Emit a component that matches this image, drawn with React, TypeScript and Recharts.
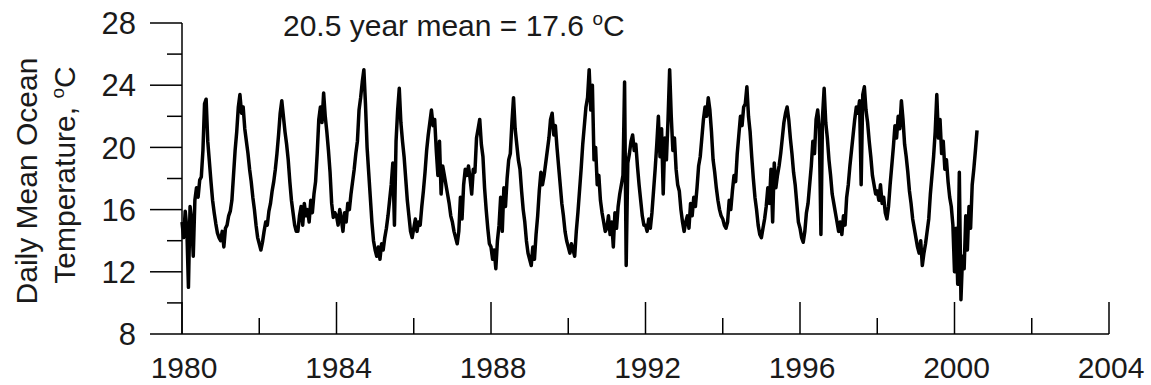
import React from "react";
import { LineChart, Line, XAxis, YAxis, Customized } from "recharts";

// Semi-monthly readings (24 per year), °C
const t1980 = [15.2, 14.2, 15.9, 14.8, 11.0, 16.2, 15.3, 13.0, 16.6, 17.4, 16.8, 17.9, 18.1, 19.8, 22.8, 23.1, 20.4, 19.1, 17.8, 16.6, 15.8, 15.1, 14.5, 14.2];
const t1981 = [14.0, 14.6, 13.6, 14.8, 15.0, 15.6, 15.9, 16.6, 18.2, 19.8, 21.0, 22.6, 23.4, 22.2, 22.6, 21.2, 20.4, 19.6, 18.6, 17.8, 16.8, 16.0, 15.0, 14.2];
const t1982 = [13.8, 13.4, 13.9, 14.6, 15.2, 15.0, 15.9, 16.4, 17.2, 17.8, 18.6, 19.6, 20.8, 22.2, 23.0, 22.0, 21.0, 20.2, 19.2, 17.8, 16.6, 15.8, 15.0, 14.6];
const t1983 = [14.6, 15.6, 16.2, 15.0, 16.4, 15.6, 16.0, 15.2, 16.6, 15.8, 17.0, 17.8, 19.6, 21.8, 22.6, 21.6, 23.5, 22.0, 21.0, 19.8, 18.4, 16.4, 15.5, 15.8];
const t1984 = [15.6, 15.0, 16.0, 15.4, 14.6, 15.8, 15.2, 16.4, 16.0, 17.0, 17.8, 18.6, 19.6, 20.4, 22.4, 23.2, 24.2, 25.0, 22.8, 20.0, 18.4, 16.8, 15.2, 14.0];
const t1985 = [13.4, 13.0, 13.6, 12.8, 13.8, 13.4, 14.2, 14.8, 15.6, 16.6, 17.6, 19.0, 15.0, 20.4, 22.4, 23.8, 21.6, 20.4, 19.4, 18.0, 16.6, 15.6, 14.6, 14.2];
const t1986 = [14.8, 15.4, 14.6, 15.2, 15.0, 16.2, 17.2, 18.4, 19.8, 20.8, 21.6, 22.4, 21.4, 21.8, 19.8, 18.2, 20.4, 17.0, 18.8, 18.2, 17.6, 17.0, 16.4, 15.6];
const t1987 = [15.2, 14.6, 14.2, 13.8, 14.6, 16.8, 15.4, 17.6, 18.6, 18.2, 18.8, 18.0, 17.0, 18.6, 18.4, 20.6, 21.2, 21.8, 20.2, 19.4, 17.4, 16.0, 14.8, 13.8];
const t1988 = [13.6, 12.8, 13.4, 12.2, 14.0, 15.0, 16.8, 14.6, 17.4, 16.2, 18.0, 19.2, 19.6, 21.6, 23.2, 21.2, 20.2, 19.2, 18.6, 17.2, 16.0, 15.2, 14.0, 13.2];
const t1989 = [12.8, 12.4, 13.6, 12.8, 14.4, 15.6, 17.2, 18.4, 17.6, 18.2, 19.0, 19.8, 20.6, 21.8, 22.2, 20.8, 21.4, 20.0, 18.8, 17.6, 16.4, 15.6, 14.6, 14.0];
const t1990 = [13.6, 13.2, 13.8, 13.4, 13.0, 14.6, 15.8, 17.2, 18.6, 20.2, 21.4, 22.6, 23.2, 25.0, 22.4, 24.0, 19.2, 20.0, 17.6, 18.2, 16.6, 15.8, 15.2, 14.6];
const t1991 = [14.8, 15.6, 14.4, 15.2, 13.6, 15.8, 14.8, 16.2, 17.0, 17.6, 18.2, 24.2, 12.4, 19.0, 19.6, 20.4, 20.8, 19.8, 20.2, 18.8, 17.6, 16.6, 15.6, 15.0];
const t1992 = [15.0, 14.6, 15.4, 14.8, 15.8, 17.2, 18.6, 20.2, 22.0, 19.4, 21.2, 17.0, 20.6, 19.2, 21.8, 25.0, 22.0, 19.8, 20.6, 18.6, 17.6, 17.2, 16.0, 15.2];
const t1993 = [14.6, 15.2, 15.6, 14.8, 16.4, 15.6, 16.8, 16.2, 17.4, 18.8, 19.4, 20.6, 21.8, 22.6, 22.0, 23.2, 22.4, 21.0, 19.2, 18.4, 17.4, 16.6, 16.0, 15.6];
const t1994 = [15.4, 15.0, 14.8, 15.2, 16.6, 16.0, 17.2, 18.2, 17.8, 19.6, 20.8, 22.0, 21.4, 22.6, 22.8, 23.9, 22.0, 21.0, 19.4, 18.0, 16.8, 16.0, 15.0, 14.4];
const t1995 = [14.2, 14.8, 15.4, 16.2, 17.4, 16.4, 18.6, 15.2, 19.0, 17.4, 18.2, 18.8, 19.6, 20.6, 21.6, 22.2, 22.6, 21.8, 20.6, 19.6, 18.4, 17.6, 16.4, 15.2];
const t1996 = [14.8, 14.2, 13.9, 14.6, 15.8, 16.4, 17.6, 18.8, 20.4, 19.6, 21.8, 22.4, 21.2, 14.4, 22.0, 23.8, 21.6, 20.6, 19.2, 18.2, 17.0, 16.4, 15.8, 15.2];
const t1997 = [14.6, 15.2, 14.4, 15.6, 15.0, 16.8, 17.6, 18.8, 19.8, 20.8, 21.8, 22.6, 22.2, 23.0, 17.6, 23.4, 23.9, 22.4, 21.6, 20.4, 19.4, 18.2, 17.6, 17.0];
const t1998 = [17.2, 16.6, 17.6, 16.4, 16.8, 15.8, 15.4, 16.2, 17.6, 18.8, 20.0, 21.4, 20.6, 22.0, 21.2, 23.0, 21.8, 20.2, 19.4, 18.4, 17.2, 16.4, 15.4, 14.8];
const t1999 = [14.2, 13.6, 13.2, 14.0, 12.4, 13.2, 13.8, 14.6, 15.4, 17.0, 18.2, 19.4, 21.0, 23.4, 20.6, 21.8, 19.6, 20.4, 18.6, 19.2, 17.8, 16.8, 16.2, 15.0];
const t2000 = [12.0, 14.8, 11.2, 18.4, 10.2, 13.0, 12.2, 15.6, 13.4, 16.2, 14.8, 17.6, 18.6, 19.8, 21.1];

const years = [1980, 1981, 1982, 1983, 1984, 1985, 1986, 1987, 1988, 1989, 1990, 1991, 1992, 1993, 1994, 1995, 1996, 1997, 1998, 1999, 2000];
const series = [t1980, t1981, t1982, t1983, t1984, t1985, t1986, t1987, t1988, t1989, t1990, t1991, t1992, t1993, t1994, t1995, t1996, t1997, t1998, t1999, t2000];

const xTicks = [1980, 1982, 1984, 1986, 1988, 1990, 1992, 1994, 1996, 1998, 2000, 2002, 2004];
const xLabelled = [1980, 1984, 1988, 1992, 1996, 2000, 2004];
const yTicks = [8, 10, 12, 14, 16, 18, 20, 22, 24, 26, 28];
const yLabelled = [8, 12, 16, 20, 24, 28];

const titleMain = "20.5 year mean = 17.6 ";
const yLabel1 = "Daily Mean Ocean";
const yLabel2 = "Temperature, ";

const data = years.flatMap((yr, k) =>
  series[k].map((v, i) => ({ year: yr + i / 24, temp: v }))
);

const FONT = "'Liberation Sans', Arial, sans-serif";
const TXT = "#1a1a1a";

const XTick = (props: any) => {
  const { x, y, payload } = props;
  const v = payload.value;
  const major = xLabelled.includes(v);
  return (
    <g>
      <line x1={x} x2={x} y1={y} y2={y - (major ? 32 : 16)} stroke="#000" strokeWidth={1.5} />
      {major && (
        <text x={x + 2} y={y + 44} textAnchor="middle" fontSize={30} fontFamily={FONT} fill={TXT}>
          {v}
        </text>
      )}
    </g>
  );
};

const YTick = (props: any) => {
  const { x, y, payload } = props;
  const v = payload.value;
  const major = yLabelled.includes(v);
  return (
    <g>
      <line x1={x - (major ? 32 : 15)} x2={x} y1={y} y2={y} stroke="#000" strokeWidth={1.5} />
      {major && (
        <text x={x - 46} y={y} dy="0.36em" textAnchor="end" fontSize={31} fontFamily={FONT} fill={TXT}>
          {v}
        </text>
      )}
    </g>
  );
};

const Texts = () => (
  <g fontFamily={FONT} fill={TXT}>
    <text x={283} y={36} fontSize={30}>
      {titleMain}
      <tspan fontSize={19} dy={-11}>o</tspan>
      <tspan dy={11}>C</tspan>
    </text>
    <text x={37} y={181} fontSize={30} textAnchor="middle" transform="rotate(-90 37 181)">
      {yLabel1}
    </text>
    <text x={75} y={175} fontSize={30} textAnchor="middle" transform="rotate(-90 75 175)">
      {yLabel2}
      <tspan fontSize={19} dy={-11}>o</tspan>
      <tspan dy={11}>C</tspan>
    </text>
  </g>
);

export default function App() {
  return (
    <div style={{ position: "absolute", left: 0, top: 0, background: "#fff" }}>
      <LineChart width={1151} height={385} data={data} margin={{ top: 23, right: 42, bottom: 0, left: 102 }}>
        <XAxis
          dataKey="year"
          type="number"
          domain={[1980, 2004]}
          ticks={xTicks}
          interval={0}
          height={51}
          tickSize={0}
          tickMargin={0}
          tickLine={false}
          axisLine={{ stroke: "#000", strokeWidth: 1.5 }}
          tick={<XTick />}
        />
        <YAxis
          type="number"
          domain={[8, 28]}
          ticks={yTicks}
          interval={0}
          width={80}
          tickSize={0}
          tickMargin={0}
          tickLine={false}
          axisLine={{ stroke: "#000", strokeWidth: 1.5 }}
          tick={<YTick />}
        />
        <Line
          dataKey="temp"
          type="linear"
          dot={false}
          stroke="#000"
          strokeWidth={3.5}
          strokeLinejoin="round"
          isAnimationActive={false}
        />
        <Customized component={Texts} />
      </LineChart>
    </div>
  );
}
